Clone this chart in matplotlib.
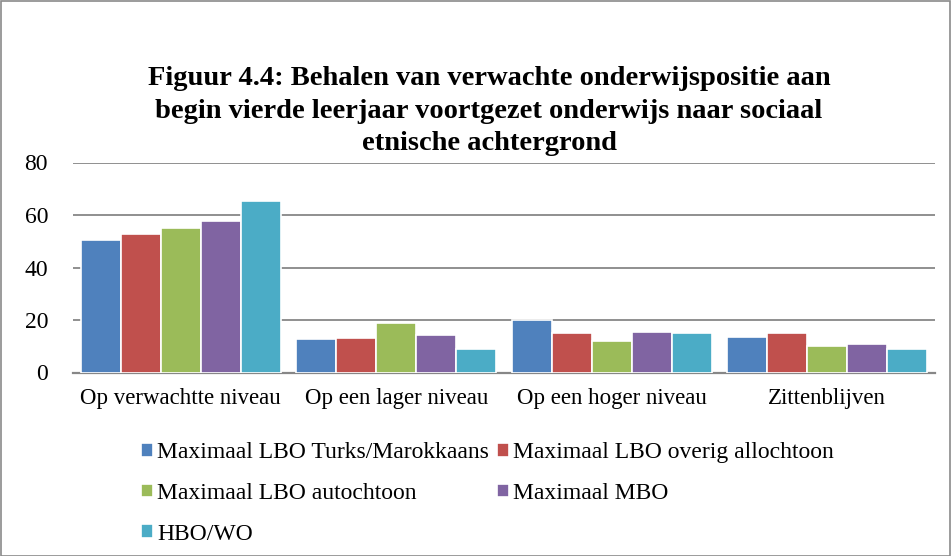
import numpy as np
import matplotlib.pyplot as plt
from matplotlib.patches import Rectangle

categories = ["Op verwachtte niveau", "Op een lager niveau", "Op een hoger niveau", "Zittenblijven"]
series_names = ["Maximaal LBO Turks/Marokkaans", "Maximaal LBO overig allochtoon",
                "Maximaal LBO autochtoon", "Maximaal MBO", "HBO/WO"]
turks_marokkaans = [50.5, 12.7, 20.0, 13.7]
overig_allochtoon = [52.8, 13.1, 15.2, 15.0]
autochtoon = [55.2, 18.9, 11.9, 10.0]
mbo = [57.6, 14.3, 15.4, 10.9]
hbo_wo = [65.4, 9.0, 14.9, 8.8]
yticks = [0, 20, 40, 60, 80]

colors = ["#4F81BD", "#C0504D", "#9BBB59", "#8064A2", "#4BACC6"]
values = [turks_marokkaans, overig_allochtoon, autochtoon, mbo, hbo_wo]

plt.rcParams['font.family'] = ['Liberation Serif', 'DejaVu Serif']

W, H = 951, 556
fig = plt.figure(figsize=(W / 100, H / 100), dpi=100)
ax = fig.add_axes([73 / W, 1 - 372.5 / H, (935 - 73) / W, (372.5 - 162.5) / H])

x = np.arange(len(categories))
pitch = 40 / 215.5
bars = []
for i, (vals, c) in enumerate(zip(values, colors)):
    b = ax.bar(x + (i - 2) * pitch, vals, width=pitch, color=c, edgecolor="white",
               linewidth=1.2, label=series_names[i], zorder=3)
    bars.append(b)

ax.set_xlim(-0.5, len(categories) - 0.5)
ax.set_ylim(0, 80)
ax.set_yticks(yticks)
ax.set_xticks(x)
ax.set_xticklabels(categories, fontsize=16.5)
ax.tick_params(axis="y", length=0, labelsize=17, pad=18)
ax.tick_params(axis="x", length=0, pad=11)
ax.yaxis.grid(True, color="#878787", linewidth=1.3, zorder=0)
for s in ["top", "right", "left"]:
    ax.spines[s].set_visible(False)
ax.spines["bottom"].set_color("#878787")
ax.spines["bottom"].set_linewidth(1.6)

fig.text(489 / W, 1 - 111 / H,
         "Figuur 4.4: Behalen van verwachte onderwijspositie aan\n"
         "begin vierde leerjaar voortgezet onderwijs naar sociaal\n"
         "etnische achtergrond",
         ha="center", va="center", fontsize=20.5, fontweight="bold", linespacing=1.37)

# row-major order in two columns
order = [0, 2, 4, 1, 3]
fig.legend([bars[i] for i in order], [series_names[i] for i in order],
           loc="upper left", bbox_to_anchor=(131.5 / W, 1 - 433 / H), borderaxespad=0,
           ncol=2, frameon=False, fontsize=17, handlelength=0.51, handleheight=0.51,
           handletextpad=0.17, columnspacing=0.34, labelspacing=0.83)

fig.patches.append(Rectangle((0.5 / W, 0.5 / H), 1 - 1.5 / W, 1 - 1.5 / H,
                             transform=fig.transFigure, fill=False,
                             edgecolor="#8a8a8a", linewidth=1.2))

fig.savefig("out.png", dpi=100)
